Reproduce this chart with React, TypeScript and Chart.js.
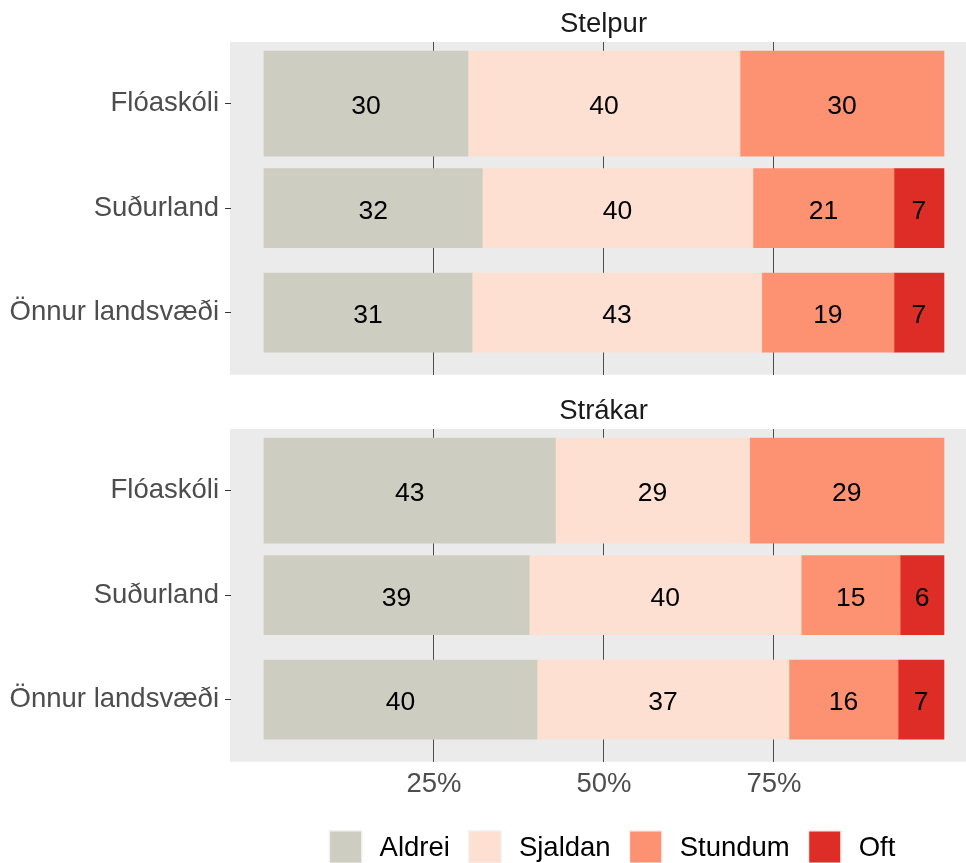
import React, { useEffect, useRef } from 'react';
import { Chart, registerables } from 'chart.js';

Chart.register(...registerables);
Chart.defaults.font.family = "'Liberation Sans', Arial, Helvetica, sans-serif";

// ---- data ----
const regions = ['Flóaskóli', 'Suðurland', 'Önnur landsvæði'];
const answers = ['Aldrei', 'Sjaldan', 'Stundum', 'Oft'];
const panels = ['Stelpur', 'Strákar'];
const xTickValues = [25, 50, 75];

const stelpurAldrei = [30.0, 32.1, 30.6];
const stelpurSjaldan = [40.0, 39.8, 42.6];
const stelpurStundum = [30.0, 20.75, 19.45];
const stelpurOft = [0, 7.35, 7.35];

const strakarAldrei = [42.86, 39.0, 40.15];
const strakarSjaldan = [28.57, 40.0, 37.05];
const strakarStundum = [28.57, 14.55, 16.05];
const strakarOft = [0, 6.45, 6.75];

// ---- styles ----
const answerColors = ['#CDCDC1', '#FEE0D2', '#FC9272', '#DE2D26'];
const FONT = 27.5;
const LABEL_FONT = 26.5;

function makeChart(canvas: HTMLCanvasElement, title: string, series: number[][], showX: boolean, withLegend: boolean) {
  const datasets: any[] = [];
  answers.forEach((a, k) => {
    const pts = series[k].map((v, i) => ({ x: v, y: i + 1 }));
    datasets.push({
      label: a,
      data: pts.filter((p, i) => i === 0 && p.x > 0),
      backgroundColor: answerColors[k],
      borderWidth: 0,
      stack: 's',
      barThickness: 105,
    });
    datasets.push({
      label: a,
      data: pts.filter((p, i) => i > 0 && p.x > 0),
      backgroundColor: answerColors[k],
      borderWidth: 0,
      stack: 's',
      barThickness: 79,
    });
  });

  const panelBg = {
    id: 'panelBg',
    beforeDraw(chart: any) {
      const { ctx, chartArea: a } = chart;
      ctx.save();
      ctx.fillStyle = '#EBEBEB';
      ctx.fillRect(a.left - 1, a.top, a.right - a.left + 1, a.bottom - a.top);
      ctx.restore();
    },
  };

  const strip = {
    id: 'strip',
    afterDraw(chart: any) {
      const { ctx, chartArea: a } = chart;
      ctx.save();
      ctx.fillStyle = '#1A1A1A';
      ctx.font = `${FONT}px ${Chart.defaults.font.family}`;
      ctx.textAlign = 'center';
      ctx.textBaseline = 'alphabetic';
      ctx.fillText(title, (a.left + a.right) / 2, a.top - 10.5);
      ctx.restore();
    },
  };

  const barLabels = {
    id: 'barLabels',
    afterDatasetsDraw(chart: any) {
      const { ctx } = chart;
      ctx.save();
      ctx.fillStyle = '#000000';
      ctx.font = `${LABEL_FONT}px ${Chart.defaults.font.family}`;
      ctx.textAlign = 'center';
      ctx.textBaseline = 'alphabetic';
      chart.data.datasets.forEach((ds: any, di: number) => {
        const meta = chart.getDatasetMeta(di);
        meta.data.forEach((el: any, j: number) => {
          const v = ds.data[j].x;
          if (!v) return;
          const p = el.getProps(['x', 'y', 'base'], true);
          ctx.fillText(String(Math.round(v)), (p.x + p.base) / 2, p.y + 10.5);
        });
      });
      ctx.restore();
    },
  };

  const legendPlugin = {
    id: 'bottomLegend',
    afterDraw(chart: any) {
      if (!withLegend) return;
      const { ctx, chartArea: a } = chart;
      ctx.save();
      ctx.font = `${FONT}px ${Chart.defaults.font.family}`;
      const box = 34;
      const gapText = 17;
      const gapItem = 18;
      const widths = answers.map((t) => ctx.measureText(t).width);
      const total = widths.reduce((s, w) => s + box + gapText + w, 0) + gapItem * (answers.length - 1);
      let x = 612 - total / 2;
      const top = a.bottom + 68.3;
      answers.forEach((t, k) => {
        ctx.fillStyle = '#F2F2F2';
        ctx.fillRect(x, top, box, box);
        ctx.fillStyle = answerColors[k];
        ctx.fillRect(x + 1.5, top + 1.5, box - 3, box - 3);
        ctx.fillStyle = '#000000';
        ctx.textAlign = 'left';
        ctx.textBaseline = 'alphabetic';
        ctx.fillText(t, x + box + gapText, top + 26);
        x += box + gapText + widths[k] + gapItem;
      });
      ctx.restore();
    },
  };

  const h = canvas.height;
  const xHeight = showX ? 40 : 0;
  const padBottom = h - 374.7 - xHeight;

  return new Chart(canvas, {
    type: 'bar',
    data: { datasets },
    plugins: [panelBg, barLabels, strip, legendPlugin],
    options: {
      animation: false,
      responsive: false,
      indexAxis: 'y',
      layout: { padding: { top: 42, bottom: padBottom, left: 0, right: 0 } },
      plugins: {
        legend: { display: false },
        tooltip: { enabled: false },
        title: { display: false },
      },
      scales: {
        x: {
          type: 'linear',
          min: -4.853,
          max: 104.71,
          stacked: true,
          offset: false,
          afterBuildTicks: (s: any) => {
            s.ticks = xTickValues.map((v) => ({ value: v }));
          },
          grid: { color: '#4D4D4D', lineWidth: 1, drawTicks: false, offset: false },
          border: { display: false },
          ticks: {
            display: showX,
            autoSkip: false,
            maxRotation: 0,
            padding: 6,
            color: '#4D4D4D',
            font: { size: FONT },
            callback: (v: any) => `${v}%`,
          },
          afterFit: (s: any) => {
            s.height = xHeight;
            s.paddingLeft = 0;
            s.paddingRight = 0;
          },
        },
        y: {
          type: 'linear',
          min: 0.41,
          max: 3.595,
          reverse: true,
          stacked: true,
          offset: false,
          afterBuildTicks: (s: any) => {
            s.ticks = regions.map((_, i) => ({ value: i + 1 }));
          },
          grid: {
            drawOnChartArea: false,
            drawTicks: true,
            tickLength: 6,
            color: '#333333',
            lineWidth: 1,
            offset: false,
          },
          border: { display: false },
          ticks: {
            autoSkip: false,
            padding: 6,
            color: '#4D4D4D',
            font: { size: FONT },
            callback: (v: any) => regions[Math.round(v) - 1],
          },
          afterFit: (s: any) => {
            s.width = 231;
            s.paddingTop = 0;
            s.paddingBottom = 0;
          },
        },
      },
    } as any,
  });
}

export default function App() {
  const ref1 = useRef<HTMLCanvasElement>(null);
  const ref2 = useRef<HTMLCanvasElement>(null);

  useEffect(() => {
    const c1 = makeChart(
      ref1.current!,
      panels[0],
      [stelpurAldrei, stelpurSjaldan, stelpurStundum, stelpurOft],
      false,
      false
    );
    const c2 = makeChart(
      ref2.current!,
      panels[1],
      [strakarAldrei, strakarSjaldan, strakarStundum, strakarOft],
      true,
      true
    );
    return () => {
      c1.destroy();
      c2.destroy();
    };
  }, []);

  return (
    <div
      style={{
        position: 'absolute',
        left: 0,
        top: 0,
        width: 966,
        height: 863,
        overflow: 'hidden',
        background: '#ffffff',
      }}
    >
      <canvas
        ref={ref1}
        width={976}
        height={400}
        style={{ position: 'absolute', left: 0, top: 0, width: 976, height: 400 }}
      />
      <canvas
        ref={ref2}
        width={976}
        height={476}
        style={{ position: 'absolute', left: 0, top: 387, width: 976, height: 476 }}
      />
    </div>
  );
}
